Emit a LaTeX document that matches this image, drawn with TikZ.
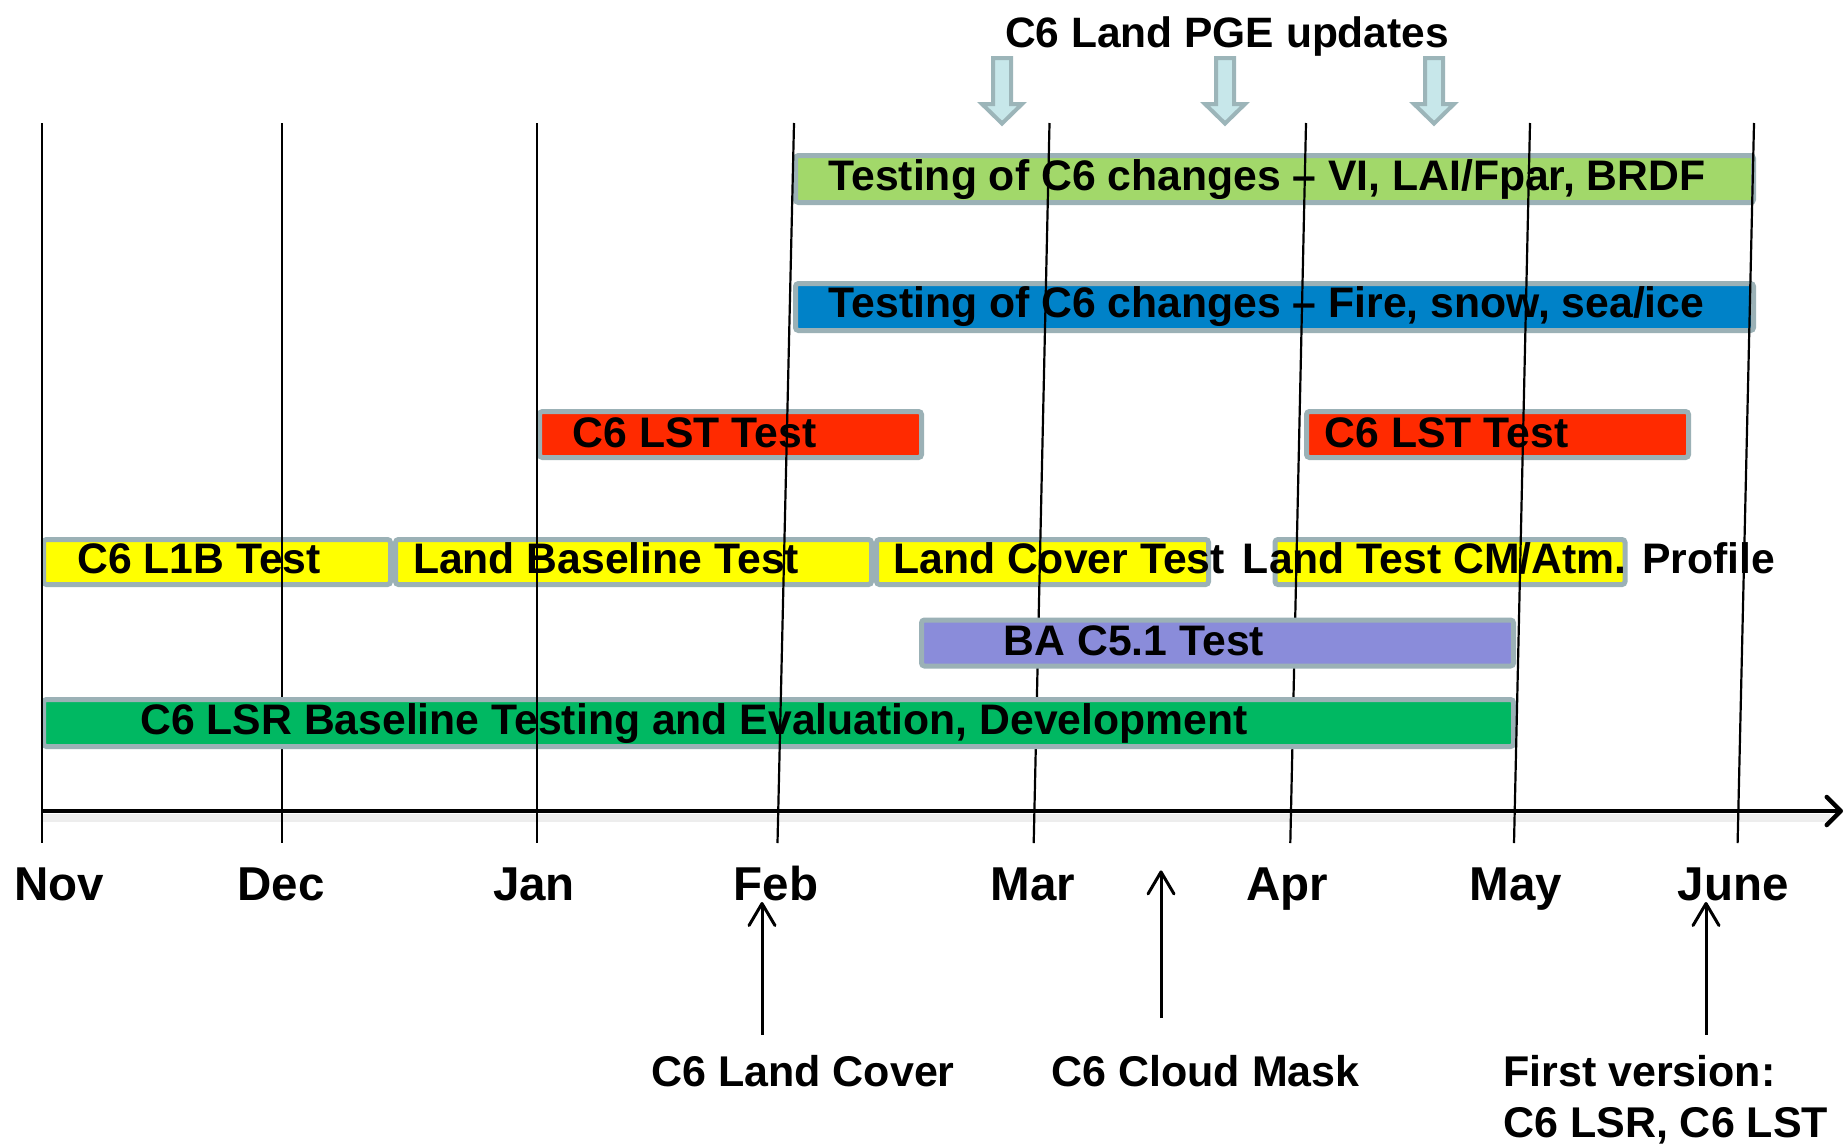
\documentclass[tikz,border=0pt]{standalone}
\usepackage{fontspec}
\setmainfont{Liberation Sans}
\usetikzlibrary{arrows.meta}
\definecolor{bord}{HTML}{9BB1B6}
\definecolor{cgreen}{HTML}{A2D86A}
\definecolor{cblue}{HTML}{0082C8}
\definecolor{cred}{HTML}{FF2A00}
\definecolor{cyel}{HTML}{FFFF00}
\definecolor{cba}{HTML}{8A8CDA}
\definecolor{clsr}{HTML}{00B862}
\definecolor{afill}{HTML}{C7E7EA}
\definecolor{aline}{HTML}{9CB5B9}
\tikzset{
  bar/.style={draw=bord, line width=5pt, rounded corners=3pt, inner sep=0pt, minimum height=47pt},
  lbl/.style={inner sep=0pt, anchor=base, font=\fontsize{42.7}{42.7}\selectfont\bfseries},
  month/.style={inner sep=0pt, anchor=base, font=\fontsize{47.5}{47.5}\selectfont\bfseries},
  blbl/.style={inner sep=0pt, anchor=base, font=\fontsize{43}{43}\selectfont\bfseries},
  vline/.style={line width=2.2pt, black},
  note/.style={line width=3pt, -{Straight Barb[length=22pt,width=26pt,round]}},
  pge/.style={draw=aline, fill=afill, line width=4pt}
}
\begin{document}
\begin{tikzpicture}[x=1pt,y=-1pt]
\useasboundingbox (0,0) rectangle (1846,1144);
\fill[white] (0,0) rectangle (1846,1144);

% month line end points
\coordinate (novT) at (42,123);    \coordinate (novB) at (42,843);
\coordinate (decT) at (282,123);   \coordinate (decB) at (282,843);
\coordinate (janT) at (537,123);   \coordinate (janB) at (537,843);
\coordinate (febT) at (794,123);   \coordinate (febB) at (777.5,843);
\coordinate (marT) at (1049.5,123);\coordinate (marB) at (1033.7,843);
\coordinate (aprT) at (1306,123);  \coordinate (aprB) at (1290.3,843);
\coordinate (mayT) at (1530,123);  \coordinate (mayB) at (1514,843);
\coordinate (junT) at (1754,123);  \coordinate (junB) at (1737.6,843);

% title and PGE arrows
\node[lbl, font=\fontsize{42.5}{42.5}\selectfont\bfseries] (title) at (1227,47) {C6 Land PGE updates};
\foreach \c in {1002,1225,1434}{
  \draw[pge] (\c-9,58) -- (\c+9,58) -- (\c+9,104) -- (\c+20,104) -- (\c,123.5) -- (\c-20,104) -- (\c-9,104) -- cycle;
}

% axis with shadow
\draw[line width=8pt, black!7] (41,818) -- (1830,818);
\coordinate (axL) at (41,811);
\coordinate (axR) at (1843,811);
\draw[line width=4.5pt, -{Straight Barb[length=14pt,width=28pt,round]}] (axL) -- (axR);

% upper bars
\node[bar, fill=cgreen, minimum width=958pt] (vi) at (1274.5,179) {};
\node[bar, fill=cblue, minimum width=958pt] (fire) at (1274.5,307) {};
\node[bar, fill=cred, minimum width=382pt, minimum height=46pt] (lst1) at (730.5,434.5) {};
\node[bar, fill=cred, minimum width=382pt, minimum height=46pt] (lst2) at (1497.5,434.5) {};
\node[bar, fill=cyel, minimum width=347pt, minimum height=45pt] (l1b) at (217,562) {};
\node[bar, fill=cyel, minimum width=476pt, minimum height=45pt] (lbase) at (633.5,562) {};
\node[bar, fill=cyel, minimum width=332pt, minimum height=45pt] (lcov) at (1042.5,562) {};
\node[bar, fill=cyel, minimum width=350pt, minimum height=45pt] (ltest) at (1450,562) {};

\node[lbl] (tvi) at (1267,190) {Testing of C6 changes – VI, LAI/Fpar, BRDF};
\node[lbl] (tfire) at (1266.5,317) {Testing of C6 changes – Fire, snow, sea/ice};
\node[lbl] (tlst1) at (694.5,447) {C6 LST Test};
\node[lbl] (tlst2) at (1446.5,447) {C6 LST Test};
\node[lbl] (tl1b) at (199,573) {C6 L1B Test};
\node[lbl] (tlbase) at (606,573) {Land Baseline Test};
\node[lbl] (tlcov) at (1059,573) {Land Cover Test};
\node[lbl] (tltest) at (1509,573) {Land Test CM/Atm. Profile};

% lines hidden by the lower bars
\draw[vline] (decT) -- (decB);
\draw[vline] (marT) -- (marB);
\draw[vline] (aprT) -- (aprB);

% lower bars
\node[bar, fill=cba, minimum width=592pt, minimum height=46pt] (ba) at (1217.5,643) {};
\node[bar, fill=clsr, minimum width=1470pt] (lsr) at (778.5,723) {};
\node[lbl] (tba) at (1134,655) {BA C5.1 Test};
\node[lbl] (tlsr) at (694,734) {C6 LSR Baseline Testing and Evaluation, Development};

% lines drawn over everything
\draw[vline] (novT) -- (novB);
\draw[vline] (janT) -- (janB);
\draw[vline] (febT) -- (febB);
\draw[vline] (mayT) -- (mayB);
\draw[vline] (junT) -- (junB);

% month labels
\node[month] (mnov) at (59,900) {Nov};
\node[month] (mdec) at (281,900) {Dec};
\node[month] (mjan) at (534,900) {Jan};
\node[month] (mfeb) at (776,900) {Feb};
\node[month] (mmar) at (1033,900) {Mar};
\node[month] (mapr) at (1287,900) {Apr};
\node[month] (mmay) at (1516,900) {May};
\node[month] (mjun) at (1733,900) {June};

% milestones
\node[blbl] (lc) at (803,1086) {C6 Land Cover};
\node[blbl] (cm) at (1205.5,1086) {C6 Cloud Mask};
\node[blbl, anchor=base west] (fv1) at (1503,1086) {First version:};
\node[blbl, anchor=base west] (fv2) at (1503,1137) {C6 LSR, C6 LST};

\coordinate (lcS) at (762,1034.6);  \coordinate (lcE) at (762,902);
\coordinate (cmS) at (1161,1018);   \coordinate (cmE) at (1161,870.4);
\coordinate (fvS) at (1706,1034.6); \coordinate (fvE) at (1706,902);
\draw[note] (lcS) -- (lcE);
\draw[note] (cmS) -- (cmE);
\draw[note] (fvS) -- (fvE);
\end{tikzpicture}
\end{document}
